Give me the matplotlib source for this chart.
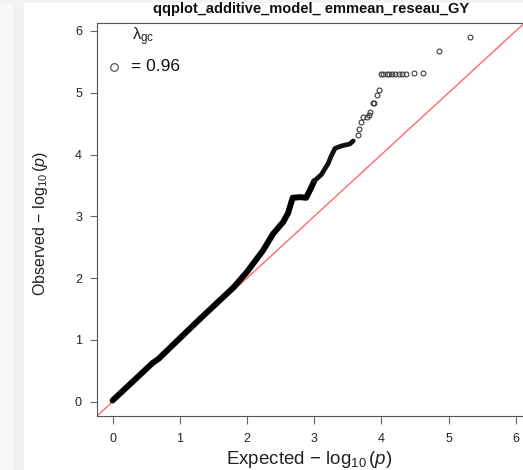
import matplotlib
matplotlib.use("Agg")
import matplotlib.pyplot as plt
from matplotlib.patches import Rectangle

plt.rcParams["font.family"] = ["Liberation Sans", "DejaVu Sans"]
plt.rcParams["mathtext.fontset"] = "custom"
plt.rcParams["mathtext.rm"] = "Liberation Sans"
plt.rcParams["mathtext.it"] = "Liberation Sans:italic"
plt.rcParams["mathtext.bf"] = "Liberation Sans:bold"

TITLE = "qqplot_additive_model_ emmean_reseau_GY"
LAMBDA_GC = 0.96

# dense part of the QQ curve (expected, observed -log10 p)
band_expected = [0.00, 0.55, 0.60, 0.68, 1.30, 1.80, 2.00, 2.24, 2.39, 2.54,
                 2.61, 2.68, 2.79, 2.88, 2.94, 3.00]
band_observed = [0.02, 0.58, 0.63, 0.69, 1.34, 1.85, 2.10, 2.45, 2.72, 2.91,
                 3.05, 3.30, 3.31, 3.30, 3.43, 3.57]

# thinning part of the curve, where points begin to separate
upper_expected = [3.00, 3.11, 3.21, 3.25, 3.31, 3.41, 3.53, 3.58]
upper_observed = [3.57, 3.68, 3.86, 3.97, 4.10, 4.14, 4.17, 4.22]

# sparse upper tail, individual SNPs
tail_expected = [3.65, 3.67, 3.70, 3.73, 3.78, 3.82, 3.83, 3.87, 3.89, 3.93,
                 3.96, 3.99, 4.03, 4.08, 4.11, 4.16, 4.20, 4.26, 4.31, 4.36,
                 4.48, 4.62, 4.85, 5.32]
tail_observed = [4.32, 4.41, 4.53, 4.60, 4.60, 4.64, 4.68, 4.83, 4.84, 4.96,
                 5.04, 5.31, 5.31, 5.31, 5.31, 5.31, 5.31, 5.31, 5.31, 5.31,
                 5.32, 5.32, 5.68, 5.90]

ticks = [0, 1, 2, 3, 4, 5, 6]
lim = (-0.236, 6.136)

W, H = 523, 470
fig = plt.figure(figsize=(W / 100, H / 100), dpi=100)
fig.patch.set_facecolor("white")

# faint frame strips along the left and top edges
fig.patches.append(Rectangle((0, 0), 24 / W, 1, transform=fig.transFigure,
                             facecolor="#f8f8f8", edgecolor="none", zorder=0))
fig.patches.append(Rectangle((13 / W, 0), 11 / W, 1, transform=fig.transFigure,
                             facecolor="#f1f1f1", edgecolor="none", zorder=0))
fig.patches.append(Rectangle((0, 1 - 3 / H), 1, 3 / H, transform=fig.transFigure,
                             facecolor="#f3f3f3", edgecolor="none", zorder=0))

left, right, top, bottom = 96.7, 525.0, 22.5, 416.3
ax = fig.add_axes([left / W, (H - bottom) / H, (right - left) / W, (bottom - top) / H])
ax.set_xlim(lim)
ax.set_ylim(lim)

# reference line y = x
ax.axline((0, 0), slope=1, color="#ff6a6a", lw=1.0, zorder=1)

ax.plot(band_expected, band_observed, color="black", lw=4.3,
        solid_capstyle="round", solid_joinstyle="round", zorder=2)
ax.plot(upper_expected, upper_observed, color="#111111", lw=3.4,
        solid_capstyle="round", solid_joinstyle="round", zorder=2)
ax.plot(tail_expected, tail_observed, linestyle="none", marker="o",
        markersize=3.5, markerfacecolor="none", markeredgecolor="#3a3a3a",
        markeredgewidth=0.8, zorder=3)

ax.set_xticks(ticks)
ax.set_yticks(ticks)
ax.tick_params(axis="both", direction="out", length=5.4, width=0.8,
               color="#666666", labelcolor="#222222", labelsize=9)
ax.tick_params(axis="x", pad=6.8)
ax.tick_params(axis="y", pad=5.2)
for s in ax.spines.values():
    s.set_color("#555555")
    s.set_linewidth(0.8)

fig.text(311 / W, 1 - 13.5 / H, TITLE, ha="center", va="baseline",
         fontsize=10.5, fontweight="bold", color="#111111")
fig.text(309 / W, 1 - 464 / H, "Expected \u2212 $\\log_{10}(p)$", ha="center",
         va="baseline", fontsize=13.5, color="#222222")
fig.text(40 / W, 1 - 224 / H, "Observed \u2212 $\\log_{10}(p)$",
         ha="center", va="center", rotation=90, fontsize=11.5, color="#222222")

# lambda annotation
fig.text(132 / W, 1 - 37 / H, r"$\mathrm{\lambda}_{\mathrm{gc}}$", ha="left",
         va="center", fontsize=12, color="#222222")
ax.plot([0.02], [5.42], linestyle="none", marker="o",
        markersize=5.5, markerfacecolor="none", markeredgecolor="#555555",
        markeredgewidth=0.9, clip_on=False)
fig.text(131 / W, 1 - 66.5 / H, f"= {LAMBDA_GC:.2f}", ha="left", va="center",
         fontsize=12.5, color="#111111")

fig.savefig("out.png", dpi=100)
